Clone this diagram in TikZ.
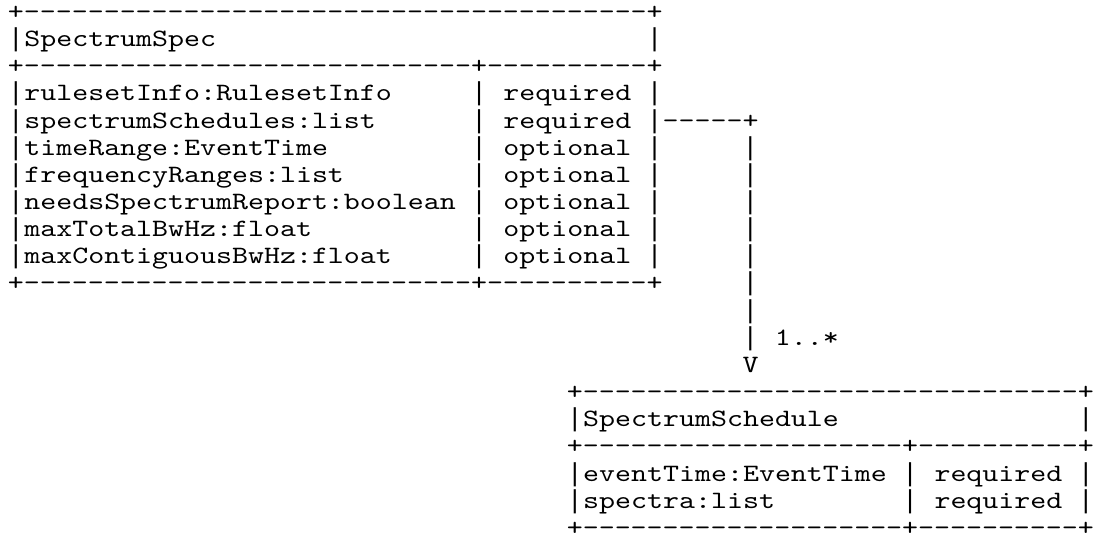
\documentclass[tikz,border=0pt]{standalone}
\usepackage{fontspec}
\newfontfamily\asciifont{lmmono10-regular}[Extension=.otf,FakeStretch=1.22]
\newfontfamily\barfont{Liberation Mono}
\begin{document}
\begin{tikzpicture}[x=8pt,y=-13.6pt,
		ch/.style={anchor=base,inner sep=0pt,font=\asciifont\fontsize{12.5}{12.5}\selectfont},
		bar/.style={ch,font=\barfont\fontsize{13}{13}\selectfont},
		word/.style={ch,anchor=base west}]
		\useasboundingbox (0,0) rectangle (68.45,20);
		\begin{scope}[shift={(1,0.72)}]
		
		% SpectrumSpec
		\foreach \c in {1,...,39}
			\node[ch] at (\c,0) {-};
		\foreach \r in {2,10} {
			\foreach \c in {1,...,28,30,31,...,39}
				\node[ch] at (\c,\r) {-};
			\node[ch] at (29,\r) {+};
		}
		\foreach \r in {0,2,10} {
			\node[ch] at (0,\r) {+};
			\node[ch] at (40,\r) {+};
		}
		\foreach \r in {1,3,4,...,9} {
			\node[bar] at (0,\r) {|};
			\node[bar] at (40,\r) {|};
		}
		\foreach \r in {3,...,9}
			\node[bar] at (29,\r) {|};
		
		\node[word] (spec) at (0.5,1) {SpectrumSpec};
		\foreach \r/\f/\q in {3/rulesetInfo:RulesetInfo/required, 4/spectrumSchedules:list/required, 5/timeRange:EventTime/optional, 6/frequencyRanges:list/optional, 7/needsSpectrumReport:boolean/optional, 8/maxTotalBwHz:float/optional, 9/maxContiguousBwHz:float/optional} {
			\node[word] (field\r) at (0.5,\r) {\f};
			\node[word] (need\r) at (30.5,\r) {\q};
		}
		
		% link
		\foreach \c in {41,...,45}
			\node[ch] at (\c,4) {-};
		\node[ch] (corner) at (46,4) {+};
		\foreach \r in {5,...,12}
			\node[bar] at (46,\r) {|};
		\node[word] (mult) at (47.5,12) {1..*};
		\node[ch] (tip) at (46,13) {V};
		
		% SpectrumSchedule
		\foreach \c in {36,...,66}
			\node[ch] at (\c,14) {-};
		\foreach \r in {16,19} {
			\foreach \c in {36,...,55,57,58,...,66}
				\node[ch] at (\c,\r) {-};
			\node[ch] at (56,\r) {+};
		}
		\foreach \r in {14,16,19} {
			\node[ch] at (35,\r) {+};
			\node[ch] at (67,\r) {+};
		}
		\foreach \r in {15,17,18} {
			\node[bar] at (35,\r) {|};
			\node[bar] at (67,\r) {|};
		}
		\foreach \r in {17,18}
			\node[bar] at (56,\r) {|};
		
		\node[word] (sched) at (35.5,15) {SpectrumSchedule};
		\foreach \r/\f/\q in {17/eventTime:EventTime/required, 18/spectra:list/required} {
			\node[word] (field\r) at (35.5,\r) {\f};
			\node[word] (need\r) at (57.5,\r) {\q};
		}
		\end{scope}
\end{tikzpicture}
\end{document}
